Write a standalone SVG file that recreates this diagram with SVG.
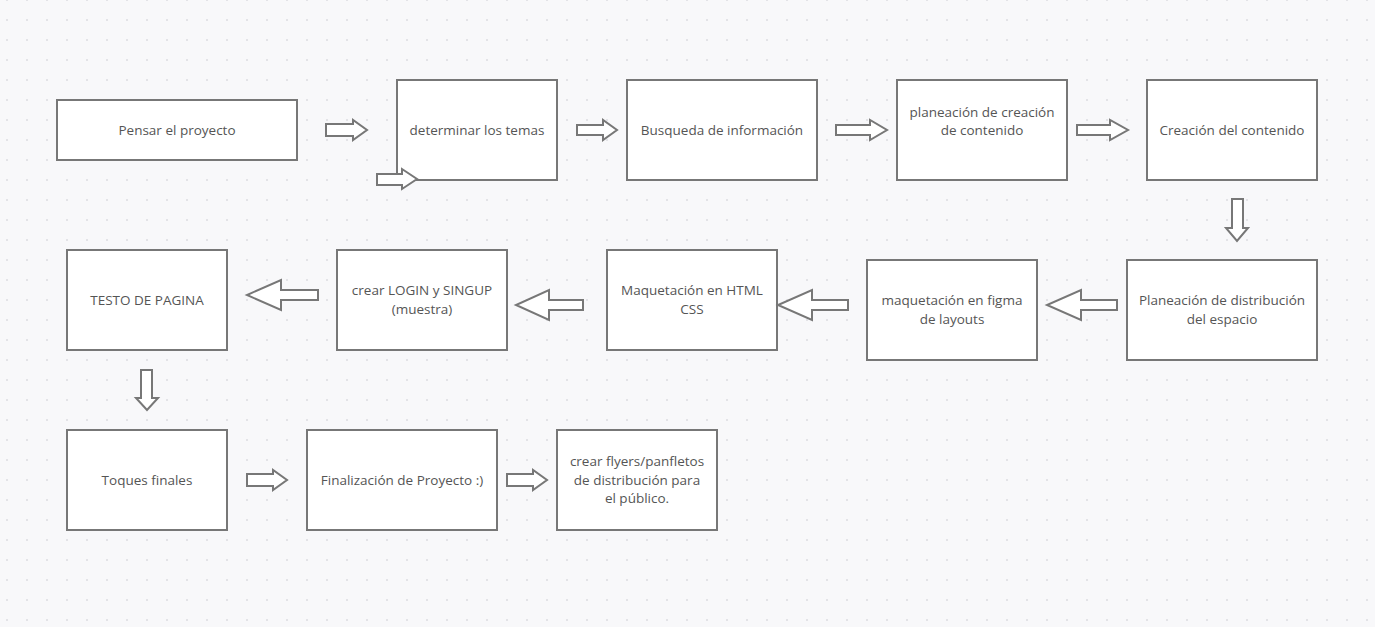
<svg xmlns="http://www.w3.org/2000/svg" width="1375" height="627" viewBox="0 0 1375 627">
<defs>
<pattern id="dots" x="0" y="-10" width="20" height="20" patternUnits="userSpaceOnUse">
<circle cx="7" cy="10" r="1" fill="#dcdce0"/>
</pattern>
<style>
.box{fill:#ffffff;stroke:#777777;stroke-width:2}
.arr{fill:#ffffff;stroke:#777777;stroke-width:2;stroke-linejoin:miter}
.lbl{font-family:"Open Sans","Noto Sans","Liberation Sans",sans-serif;font-size:13.5px;fill:#555555;text-anchor:middle}
</style>
</defs>
<rect x="0" y="0" width="1375" height="627" fill="#f8f8fa"/>
<rect x="0" y="0" width="1375" height="627" fill="url(#dots)"/>

<g id="n1"><rect class="box" x="57" y="100" width="240" height="60"/><text class="lbl" x="177" y="135">Pensar el proyecto</text></g>
<g id="n2"><rect class="box" x="397" y="80" width="160" height="100"/><text class="lbl" x="477" y="135">determinar los temas</text></g>
<g id="n3"><rect class="box" x="627" y="80" width="190" height="100"/><text class="lbl" x="722" y="135">Busqueda de información</text></g>
<g id="n4"><rect class="box" x="897" y="80" width="170" height="100"/><text class="lbl" x="982" y="117">planeación de creación</text><text class="lbl" x="982" y="135">de contenido</text></g>
<g id="n5"><rect class="box" x="1147" y="80" width="170" height="100"/><text class="lbl" x="1232" y="135">Creación del contenido</text></g>
<g id="n6"><rect class="box" x="1127" y="260" width="190" height="100"/><text class="lbl" x="1222" y="305">Planeación de distribución</text><text class="lbl" x="1222" y="324">del espacio</text></g>
<g id="n7"><rect class="box" x="867" y="260" width="170" height="100"/><text class="lbl" x="952" y="305">maquetación en figma</text><text class="lbl" x="952" y="324">de layouts</text></g>
<g id="n8"><rect class="box" x="607" y="250" width="170" height="100"/><text class="lbl" x="692" y="295">Maquetación en HTML</text><text class="lbl" x="692" y="314">CSS</text></g>
<g id="n9"><rect class="box" x="337" y="250" width="170" height="100"/><text class="lbl" x="422" y="295">crear LOGIN y SINGUP</text><text class="lbl" x="422" y="314">(muestra)</text></g>
<g id="n10"><rect class="box" x="67" y="250" width="160" height="100"/><text class="lbl" x="147" y="305">TESTO DE PAGINA</text></g>
<g id="n11"><rect class="box" x="67" y="430" width="160" height="100"/><text class="lbl" x="147" y="485">Toques finales</text></g>
<g id="n12"><rect class="box" x="307" y="430" width="190" height="100"/><text class="lbl" x="402" y="485">Finalización de Proyecto :)</text></g>
<g id="n13"><rect class="box" x="557" y="430" width="160" height="100"/><text class="lbl" x="637" y="466">crear flyers/panfletos</text><text class="lbl" x="637" y="485">de distribución para</text><text class="lbl" x="637" y="503">el público.</text></g>

<g id="connectors">
<polygon class="arr" points="326,124 353,124 353,120 367,130 353,140 353,136 326,136"/>
<polygon class="arr" points="377,174 402,174 402,169 417,179 402,189 402,185 377,185"/>
<polygon class="arr" points="577,125 603,125 603,120 617,130 603,140 603,135 577,135"/>
<polygon class="arr" points="836,125 870,125 870,120 887,130 870,140 870,135 836,135"/>
<polygon class="arr" points="1077,125 1110,125 1110,120 1128,130 1110,140 1110,135 1077,135"/>
<polygon class="arr" points="1232,199 1243,199 1243,228 1248,228 1237,241 1226,228 1232,228"/>
<polygon class="arr" points="1117,300 1081,300 1081,290 1047,305 1081,320 1081,310 1117,310"/>
<polygon class="arr" points="848,300 812,300 812,290 778,305 812,320 812,310 848,310"/>
<polygon class="arr" points="583,300 549,300 549,290 516,305 549,320 549,310 583,310"/>
<polygon class="arr" points="318,290 281,290 281,280 247,295 281,310 281,300 318,300"/>
<polygon class="arr" points="141,370 152,370 152,398 158,398 147,410 136,398 141,398"/>
<polygon class="arr" points="247,474 273,474 273,470 287,480 273,490 273,486 247,486"/>
<polygon class="arr" points="507,474 533,474 533,470 547,480 533,490 533,486 507,486"/>
</g>
</svg>
